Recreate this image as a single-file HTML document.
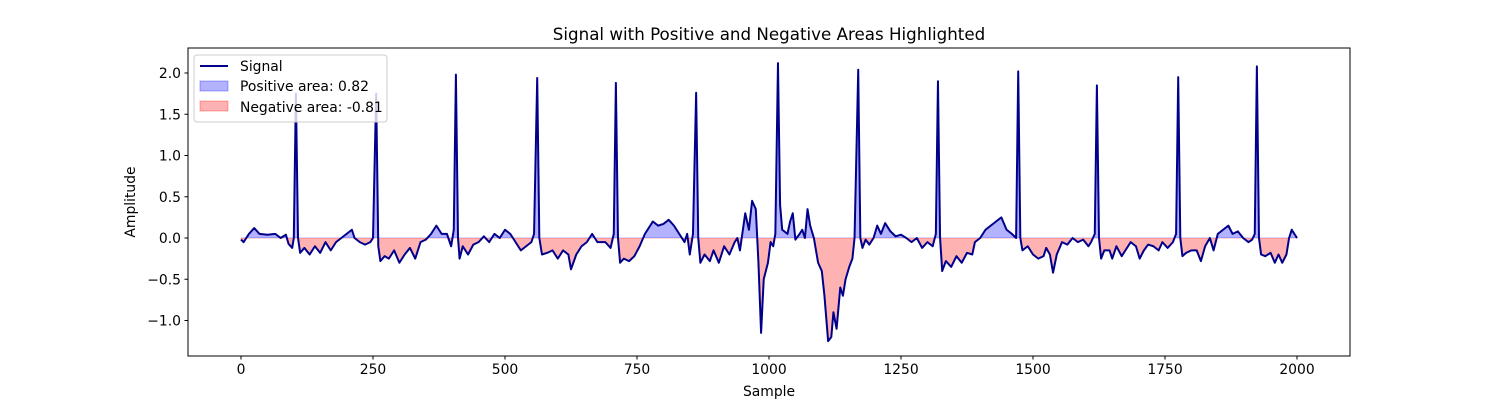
<!DOCTYPE html>
<html><head><meta charset="utf-8"><style>
body{margin:0;background:#fff;}
svg text{font-family:"DejaVu Sans","Liberation Sans",sans-serif;fill:#000;}
</style></head><body>
<svg id="chart" width="1500" height="400" xmlns="http://www.w3.org/2000/svg">
<rect width="1500" height="400" fill="#fff"/>
<text x="769" y="40" font-size="16.7" text-anchor="middle">Signal with Positive and Negative Areas Highlighted</text>
<defs>
<clipPath id="clipPos"><rect id="cpr" x="188" y="48" width="1162" height="190"/></clipPath>
<clipPath id="clipNeg"><rect id="cnr" x="188" y="238" width="1162" height="118"/></clipPath>
</defs>
<g id="fills"></g>
<g id="lineg"></g>
<rect x="188" y="48" width="1162" height="308" fill="none" stroke="#000" stroke-width="1"/>
<g id="axes"></g>
<text x="769" y="396" font-size="13.9" text-anchor="middle">Sample</text>
<text transform="translate(135,202) rotate(-90)" font-size="13.9" text-anchor="middle">Amplitude</text>
<g>
<rect x="194" y="55" width="193" height="67" rx="3" fill="#fff" fill-opacity="0.8" stroke="#ccc"/>
<line x1="200" y1="66" x2="228" y2="66" stroke="#00008b" stroke-width="2"/>
<text x="240" y="71" font-size="13.9">Signal</text>
<rect x="200" y="81" width="28" height="10" fill="#0000ff" fill-opacity="0.3" stroke="#0000ff" stroke-opacity="0.3"/>
<text x="240" y="91" font-size="13.9">Positive area: 0.82</text>
<rect x="200" y="101" width="28" height="10" fill="#ff0000" fill-opacity="0.3" stroke="#ff0000" stroke-opacity="0.3"/>
<text x="240" y="112" font-size="13.9">Negative area: -0.81</text>
</g>
</svg>
<script>
const samples=[0,5,15,25,35,50,65,75,85,90,97,100,104,108,112,120,130,140,150,160,170,180,190,200,210,215,225,235,245,250,256,260,264,272,280,290,300,310,320,330,340,350,360,370,380,390,398,403,407,411,414,420,430,440,450,460,470,480,490,500,510,515,520,530,540,550,555,561,565,570,580,590,600,610,620,625,635,645,655,665,675,690,700,706,710,714,718,725,735,745,755,765,780,790,800,810,820,830,840,845,850,856,862,866,870,878,888,895,905,915,925,935,940,945,955,962,968,975,980,985,990,998,1003,1008,1012,1017,1021,1025,1035,1040,1045,1050,1058,1063,1068,1073,1078,1085,1093,1100,1105,1112,1118,1122,1128,1135,1140,1145,1152,1158,1162,1169,1173,1177,1183,1190,1198,1205,1212,1220,1230,1240,1250,1260,1270,1280,1290,1300,1310,1316,1320,1324,1328,1335,1345,1355,1365,1375,1385,1390,1400,1410,1420,1430,1440,1450,1460,1468,1472,1476,1480,1490,1500,1510,1520,1525,1532,1538,1545,1555,1565,1575,1585,1595,1605,1610,1617,1621,1625,1629,1635,1645,1650,1658,1668,1675,1685,1695,1702,1710,1718,1728,1738,1745,1755,1765,1771,1775,1779,1783,1790,1800,1810,1818,1826,1835,1842,1850,1860,1870,1878,1888,1898,1908,1915,1920,1924,1928,1932,1940,1950,1958,1965,1972,1980,1985,1990,1995,2000];
const amplitudes=[-0.02,-0.05,0.05,0.12,0.05,0.04,0.05,0.0,0.04,-0.07,-0.12,0.0,1.75,0.0,-0.18,-0.12,-0.2,-0.1,-0.18,-0.05,-0.15,-0.05,0.0,0.05,0.1,0.0,-0.05,-0.08,-0.05,0.0,1.75,-0.1,-0.28,-0.22,-0.25,-0.15,-0.3,-0.2,-0.12,-0.25,-0.05,-0.02,0.05,0.15,0.05,0.05,-0.1,0.1,1.98,0.0,-0.25,-0.1,-0.2,-0.08,-0.05,0.02,-0.05,0.05,0.0,0.1,0.05,0.0,-0.05,-0.15,-0.1,-0.05,0.05,1.94,0.0,-0.2,-0.18,-0.15,-0.25,-0.15,-0.2,-0.38,-0.2,-0.1,-0.05,0.05,-0.05,-0.05,-0.12,0.05,1.88,0.0,-0.3,-0.25,-0.28,-0.22,-0.1,0.05,0.2,0.15,0.17,0.22,0.15,0.05,-0.05,0.05,-0.2,0.05,1.76,0.0,-0.3,-0.2,-0.28,-0.15,-0.3,-0.1,-0.2,-0.05,0.0,-0.15,0.3,0.1,0.45,0.35,-0.3,-1.15,-0.5,-0.3,-0.05,-0.1,0.05,2.12,0.4,0.1,0.05,0.2,0.3,-0.02,0.05,0.1,0.0,0.35,0.15,0.0,-0.3,-0.4,-0.7,-1.25,-1.2,-0.9,-1.1,-0.6,-0.7,-0.5,-0.35,-0.25,0.0,2.04,0.0,-0.12,-0.02,-0.08,0.0,0.15,0.05,0.18,0.08,0.02,0.04,0.0,-0.05,0.0,-0.12,-0.05,-0.1,0.05,1.90,0.0,-0.4,-0.28,-0.35,-0.22,-0.3,-0.18,-0.2,-0.05,0.0,0.1,0.15,0.2,0.25,0.1,0.05,0.0,2.02,0.0,-0.15,-0.1,-0.2,-0.25,-0.22,-0.12,-0.2,-0.42,-0.2,-0.05,-0.08,0.0,-0.05,-0.02,-0.1,-0.05,0.05,1.85,0.0,-0.25,-0.15,-0.15,-0.25,-0.1,-0.22,-0.15,-0.05,-0.1,-0.25,-0.15,-0.08,-0.1,-0.15,-0.05,-0.12,-0.05,0.05,1.95,0.0,-0.22,-0.18,-0.15,-0.15,-0.28,-0.1,0.0,-0.15,0.05,0.1,0.15,0.05,0.08,0.0,-0.05,-0.02,0.05,2.08,0.0,-0.2,-0.22,-0.18,-0.3,-0.2,-0.3,-0.2,0.0,0.1,0.05,0.0];
const xTicks=[0,250,500,750,1000,1250,1500,1750,2000];
const yTicks=[-1.0,-0.5,0.0,0.5,1.0,1.5,2.0];
const yTickLabels=["\u22121.0","\u22120.5","0.0","0.5","1.0","1.5","2.0"];

const NS="http://www.w3.org/2000/svg";
const xS=v=>241+v*0.528;
const yS=v=>238-v*82.5;
function mk(tag,attrs,parent){const e=document.createElementNS(NS,tag);for(const k in attrs)e.setAttribute(k,attrs[k]);parent.appendChild(e);return e;}
document.getElementById('cpr').setAttribute('height',yS(0)-48);
document.getElementById('cnr').setAttribute('y',yS(0));
let pts=samples.map((s,i)=>xS(s).toFixed(2)+','+yS(amplitudes[i]).toFixed(2));
let poly='M'+xS(samples[0])+','+yS(0)+' L'+pts.join(' L')+' L'+xS(samples[samples.length-1])+','+yS(0)+' Z';
const fills=document.getElementById('fills');
const pos=mk('path',{d:poly,fill:'#0000ff','fill-opacity':0.3,stroke:'#0000ff','stroke-opacity':0.3,'clip-path':'url(#clipPos)'},fills);


const neg=mk('path',{d:poly,fill:'#ff0000','fill-opacity':0.3,stroke:'#ff0000','stroke-opacity':0.3,'clip-path':'url(#clipNeg)'},fills);


const line=mk('polyline',{points:pts.join(' '),fill:'none',stroke:'#00008b','stroke-width':2,'stroke-linejoin':'round'},document.getElementById('lineg'));


const axes=document.getElementById('axes');
xTicks.forEach(t=>{const x=xS(t);
 mk('line',{x1:x,y1:356,x2:x,y2:359.5,stroke:'#000'},axes);
 const tx=mk('text',{x:x,y:374,'font-size':13.9,'text-anchor':'middle'},axes);tx.textContent=t;
 
 });
yTicks.forEach((t,i)=>{const y=yS(t);
 mk('line',{x1:184.5,y1:y,x2:188,y2:y,stroke:'#000'},axes);
 const tx=mk('text',{x:181,y:y+5,'font-size':13.9,'text-anchor':'end'},axes);tx.textContent=yTickLabels[i];
 
 });
</script>
</body></html>
